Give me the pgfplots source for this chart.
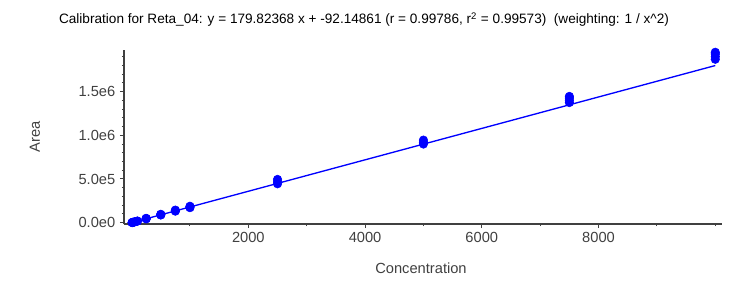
\documentclass[border=0pt]{standalone}
\usepackage{fontspec}
\setmainfont{Liberation Sans}
\usepackage{pgfplots}
\pgfplotsset{compat=1.18}
\definecolor{axgray}{HTML}{404040}
\definecolor{ptblue}{RGB}{0,0,255}
\begin{document}
\begin{tikzpicture}
\path[use as bounding box] (-93pt,-46.5pt) rectangle (469.5pt,168pt);
\begin{axis}[
  at={(0,0)}, anchor=south west, scale only axis,
  width=448.5pt, height=130.5pt,
  xmin=-130, xmax=10115, ymin=-15000, ymax=1976000,
  axis lines=left, axis line style={-, axgray, line width=0.9pt},
  tick align=outside,
  xtick={2000,4000,6000,8000}, xticklabels={2000,4000,6000,8000},
  minor xtick={0,1000,3000,5000,7000,9000,10000},
  ytick={0,500000,1000000,1500000}, yticklabels={0.0e0,5.0e5,1.0e6,1.5e6},
  minor ytick={100000,200000,300000,400000,600000,700000,800000,900000,1100000,1200000,1300000,1400000,1600000,1700000,1800000,1900000},
  major tick length=3pt, minor tick length=1.5pt,
  tick style={axgray, line width=0.75pt},
  ticklabel style={font=\fontsize{11}{13}\selectfont, text=axgray},
  scaled ticks=false,
  clip=false,
]
\addplot[ptblue, line width=1pt] coordinates {(10,1706) (10000,1798145)};
\addplot[only marks, mark=*, mark size=3.2pt, ptblue, mark options={fill=ptblue, draw=ptblue}] coordinates {
(10,1700) (10,1900) (10,2000)
(25,4400) (25,4700)
(50,8800) (50,9300)
(100,17500) (100,18800)
(250,44000) (250,47000) (250,50000)
(500,88000) (500,92000) (500,96000)
(750,132000) (750,138000) (750,144000)
(1000,172000) (1000,180000) (1000,188000)
(2500,445000) (2500,470000) (2500,495000)
(5000,900000) (5000,920000) (5000,945000)
(7500,1375000) (7500,1400000) (7500,1425000) (7500,1445000)
(10000,1870000) (10000,1900000) (10000,1930000) (10000,1950000)
};
\end{axis}
\node[anchor=base, font=\fontsize{11}{13}\selectfont, text=axgray] at (222.75pt,-36.75pt) {Concentration};
\node[anchor=center, rotate=90, font=\fontsize{11}{13}\selectfont, text=axgray] at (-66.75pt,65.25pt) {Area};
\node[anchor=base, font=\fontsize{10.2}{12}\selectfont] at (180pt,150pt)
  {Calibration for Reta\_04: y = 179.82368 x + -92.14861 (r = 0.99786, r\textsuperscript{2} = 0.99573)\ \ (weighting: 1 / x\textasciicircum 2)};
\end{tikzpicture}
\end{document}
